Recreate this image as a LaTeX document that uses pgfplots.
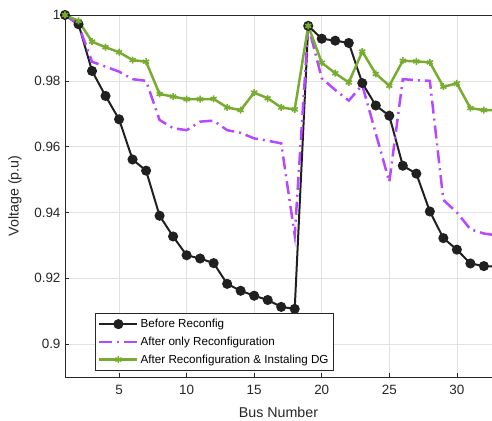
\documentclass[border=0pt]{standalone}
\usepackage{fontspec}
\setmainfont{Liberation Sans}
\usepackage{pgfplots}
\pgfplotsset{compat=1.18}
\definecolor{mgrid}{RGB}{226,226,226}
\definecolor{maxis}{RGB}{38,38,38}
\definecolor{cblack}{RGB}{32,32,32}
\definecolor{cpurple}{RGB}{182,72,255}
\definecolor{cgreen}{RGB}{119,172,48}
\begin{document}
\begin{tikzpicture}
\begin{axis}[
  name=a,
  scale only axis,
  width=427bp, height=362bp,
  xmin=1, xmax=32.6, ymin=0.89, ymax=1,
  xtick={5,10,15,20,25,30},
  ytick={0.9,0.92,0.94,0.96,0.98,1},
  yticklabels={0.9,0.92,0.94,0.96,0.98,1},
  grid=major,
  grid style={mgrid, line width=0.6pt},
  axis line style={maxis, line width=0.6pt},
  tick style={maxis, line width=0.6pt},
  tick align=inside,
  major tick length=4bp,
  axis x line*=bottom, axis y line*=left,
  ticklabel style={font=\fontsize{13.5}{15}\selectfont, text=maxis},
  xticklabel style={yshift=-5bp},
  yticklabel style={xshift=-1bp},
  /pgf/number format/assume math mode=true,
  xlabel={Bus Number},
  ylabel={Voltage (p.u)},
  label style={font=\fontsize{14.3}{16}\selectfont, text=maxis},
  xlabel style={yshift=-5bp},
  ylabel style={yshift=6bp},
  legend style={at={(axis description cs:0.07,0.017)}, anchor=south west,
    font=\fontsize{11.7}{13}\selectfont, draw=maxis, line width=0.6pt,
    cells={anchor=west}, inner xsep=3pt, inner ysep=4pt, row sep=3.8bp},
  legend image code/.code={\draw[mark repeat=2,mark phase=2] plot coordinates {(0bp,0bp) (19bp,0bp) (38bp,0bp)};},
  legend cell align=left,
  clip=true,
]
% top border
\addplot[maxis, line width=0.6pt, forget plot] coordinates {(1,1) (32.6,1)};
\addplot[cblack, line width=2pt, mark=*, mark size=4bp, mark options={solid, fill=cblack}] coordinates {
(1,1.0) (2,0.9972) (3,0.9830) (4,0.9754) (5,0.9683) (6,0.9561) (7,0.9527) (8,0.9390)
(9,0.9327) (10,0.9270) (11,0.9260) (12,0.9246) (13,0.9183) (14,0.9162) (15,0.9147)
(16,0.9134) (17,0.9113) (18,0.9107) (19,0.9967) (20,0.9928) (21,0.9922) (22,0.9915)
(23,0.9793) (24,0.9725) (25,0.9694) (26,0.9542) (27,0.9518) (28,0.9403) (29,0.9322)
(30,0.9287) (31,0.9245) (32,0.9237) (33,0.9235)};
\addlegendentry{Before Reconfig}
\addplot[cpurple, line width=2.5pt, dash pattern=on 13bp off 5bp on 2bp off 5bp] coordinates {
(1,1.0) (2,0.9970) (3,0.9858) (4,0.9843) (5,0.9828) (6,0.9805) (7,0.9800) (8,0.9681)
(9,0.9656) (10,0.9650) (11,0.9676) (12,0.9679) (13,0.9650) (14,0.9642) (15,0.9625)
(16,0.9618) (17,0.9610) (18,0.9331) (19,0.9967) (20,0.9808) (21,0.9772) (22,0.9740)
(23,0.9787) (24,0.9640) (25,0.9493) (26,0.9805) (27,0.9802) (28,0.9800) (29,0.9438)
(30,0.9400) (31,0.9349) (32,0.9336) (33,0.9330)};
\addlegendentry{After only Reconfiguration}
\addplot[cgreen, line width=2.5pt, mark=asterisk, mark size=3.5bp, mark options={solid, line width=1.6pt}] coordinates {
(1,1.0) (2,0.9982) (3,0.9919) (4,0.9902) (5,0.9887) (6,0.9863) (7,0.9858) (8,0.9760)
(9,0.9752) (10,0.9744) (11,0.9744) (12,0.9745) (13,0.9719) (14,0.9711) (15,0.9764)
(16,0.9747) (17,0.9719) (18,0.9713) (19,0.9967) (20,0.9855) (21,0.9823) (22,0.9795)
(23,0.9889) (24,0.9821) (25,0.9785) (26,0.9861) (27,0.9859) (28,0.9856) (29,0.9782)
(30,0.9792) (31,0.9717) (32,0.9711) (33,0.9711)};
\addlegendentry{After Reconfiguration \& Instaling DG}
\end{axis}
\pgfresetboundingbox
\useasboundingbox ([xshift=-65bp,yshift=-44bp]a.south west) rectangle ([yshift=15bp]a.north east);
\end{tikzpicture}
\end{document}
